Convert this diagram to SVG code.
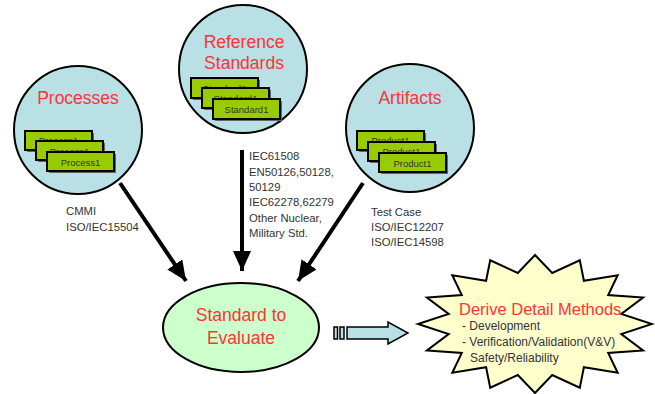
<svg xmlns="http://www.w3.org/2000/svg" width="655" height="394" viewBox="0 0 655 394">
<defs>
<style>
.circ{fill:#b9e0e5;stroke:#000;stroke-width:2}
.title{font-family:"Liberation Sans",Arial,sans-serif;font-size:17.5px;fill:#ff3333;text-anchor:middle}
.box{fill:#99cc00;stroke:#000;stroke-width:2}
.shadow{fill:#666}
.bt{font-family:"Liberation Sans",Arial,sans-serif;font-size:9.5px;fill:#333;text-anchor:middle}
.lbl{font-family:"Liberation Sans",Arial,sans-serif;font-size:11.3px;fill:#333}
.st{font-family:"Liberation Sans",Arial,sans-serif;font-size:12px;fill:#333}
.conn{stroke:#000;stroke-width:4;fill:none}
</style>
<marker id="ah" markerUnits="userSpaceOnUse" markerWidth="22" markerHeight="18" refX="20" refY="9" orient="auto">
<path d="M0,0 L20,9 L0,18 Z" fill="#000"/>
</marker>
</defs>
<rect width="655" height="394" fill="#fff"/>

<g id="processes">
<circle class="circ" cx="78" cy="130" r="64"/>
<text class="title" x="78" y="104">Processes</text>
<rect class="shadow" x="27" y="133" width="67" height="19"/>
<rect class="box" x="25" y="131" width="67" height="19"/>
<text class="bt" x="58.5" y="144">Process1</text>
<rect class="shadow" x="38" y="143" width="67" height="19"/>
<rect class="box" x="36" y="141" width="67" height="19"/>
<text class="bt" x="69.5" y="155">Process1</text>
<rect class="shadow" x="49" y="154" width="67" height="19"/>
<rect class="box" x="47" y="152" width="67" height="19"/>
<text class="bt" x="80.5" y="166">Process1</text>
</g>

<g id="reference">
<circle class="circ" cx="243" cy="69" r="64"/>
<text class="title" x="244" y="48">Reference</text>
<text class="title" x="244" y="69">Standards</text>
<rect class="shadow" x="193" y="80" width="67" height="20"/>
<rect class="box" x="191" y="78" width="67" height="20"/>
<text class="bt" x="224.5" y="92">Standard1</text>
<rect class="shadow" x="204" y="90" width="67" height="20"/>
<rect class="box" x="202" y="88" width="67" height="20"/>
<text class="bt" x="235.5" y="102">Standard1</text>
<rect class="shadow" x="215" y="101" width="67" height="20"/>
<rect class="box" x="213" y="99" width="67" height="20"/>
<text class="bt" x="246.5" y="113">Standard1</text>
</g>

<g id="artifacts">
<circle class="circ" cx="410" cy="128" r="64"/>
<text class="title" x="410" y="104">Artifacts</text>
<rect class="shadow" x="359" y="133" width="67" height="19"/>
<rect class="box" x="357" y="131" width="67" height="19"/>
<text class="bt" x="390.5" y="144">Product1</text>
<rect class="shadow" x="370" y="144" width="67" height="19"/>
<rect class="box" x="368" y="142" width="67" height="19"/>
<text class="bt" x="401.5" y="155">Product1</text>
<rect class="shadow" x="381" y="155" width="67" height="19"/>
<rect class="box" x="379" y="153" width="67" height="19"/>
<text class="bt" x="412.5" y="167">Product1</text>
</g>

<g id="connectors">
<line class="conn" x1="120" y1="183" x2="186" y2="281" marker-end="url(#ah)"/>
<line class="conn" x1="242" y1="150" x2="242" y2="271" marker-end="url(#ah)"/>
<line class="conn" x1="363" y1="183" x2="298" y2="281" marker-end="url(#ah)"/>
<g id="block-arrow" fill="#b9e0e5" stroke="#000" stroke-width="1.5">
<rect x="334" y="327" width="3.5" height="12"/>
<rect x="340" y="327" width="4" height="12"/>
<polygon points="347,327 388,327 388,322 408,333 388,344 388,339 347,339"/>
</g>
</g>

<g id="labels">
<text class="lbl" x="66" y="215">CMMI</text>
<text class="lbl" x="66" y="231">ISO/IEC15504</text>
<text class="lbl" x="249" y="160">IEC61508</text>
<text class="lbl" x="249" y="176">EN50126,50128,</text>
<text class="lbl" x="249" y="191">50129</text>
<text class="lbl" x="249" y="206">IEC62278,62279</text>
<text class="lbl" x="249" y="222">Other Nuclear,</text>
<text class="lbl" x="249" y="237">Military Std.</text>
<text class="lbl" x="371" y="216">Test Case</text>
<text class="lbl" x="371" y="231">ISO/IEC12207</text>
<text class="lbl" x="371" y="246">ISO/IEC14598</text>
</g>

<g id="evaluate">
<ellipse cx="241" cy="327.5" rx="78" ry="44.5" fill="#ccffcc" stroke="#000" stroke-width="2"/>
<text class="title" x="241" y="321">Standard to</text>
<text class="title" x="241" y="344">Evaluate</text>
</g>

<g id="derive">
<polygon fill="#ffffcc" stroke="#000" stroke-width="2" points="535,255 552.2,273 579.8,260.3 583.9,280.8 617.7,275.2 608.2,295.1 643.1,297.6 621.3,313.9 652,324 621.3,334.1 643.1,350.4 608.2,352.9 617.7,372.8 583.9,367.2 579.8,387.7 552.2,375 535,393 517.8,375 490.2,387.7 486.1,367.2 452.3,372.8 461.8,352.9 426.9,350.4 448.7,334.1 418,324 448.7,313.9 426.9,297.6 461.8,295.1 452.3,275.2 486.1,280.8 490.2,260.3 517.8,273"/>
<text x="459" y="315" style="font-family:'Liberation Sans',Arial,sans-serif;font-size:16.5px;fill:#ff3333">Derive Detail Methods</text>
<text class="st" x="462" y="330">- Development</text>
<text class="st" x="462" y="346">- Verification/Validation(V&amp;V)</text>
<text class="st" x="470" y="362">Safety/Reliability</text>
</g>
</svg>
